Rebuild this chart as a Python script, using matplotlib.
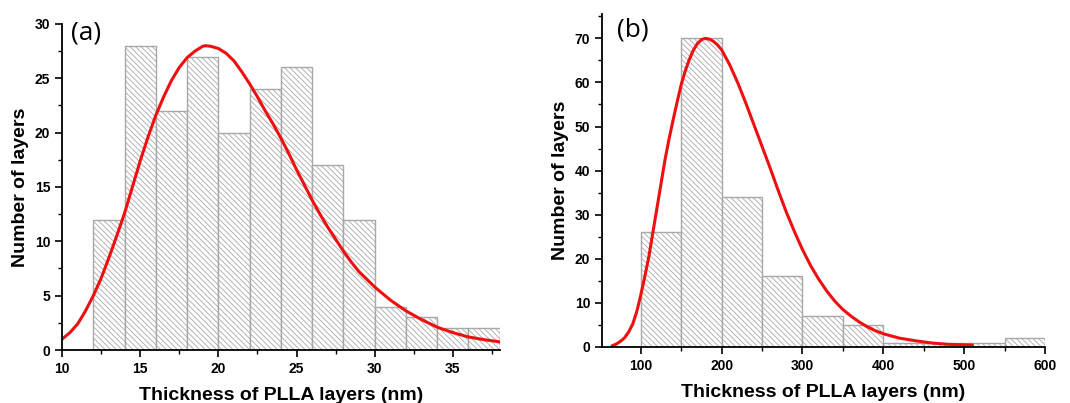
import numpy as np
import matplotlib
matplotlib.use('Agg')
import matplotlib.pyplot as plt
from matplotlib.ticker import MultipleLocator

plt.rcParams['font.family'] = ['Liberation Sans', 'DejaVu Sans']
plt.rcParams['hatch.linewidth'] = 0.6

# panel (a) histogram: bin edges and counts
a_edges = [12, 14, 16, 18, 20, 22, 24, 26, 28, 30, 32, 34, 36, 38]
a_counts = [12, 28, 22, 27, 20, 24, 26, 17, 12, 4, 3, 2, 2]
# panel (a) fit curve
a_fit_x = [10, 10.5, 11, 11.5, 12, 12.5, 13, 13.5, 14, 14.5, 15, 15.5, 16, 16.5,
           17, 17.5, 18, 18.5, 19, 19.2, 19.5, 20, 20.5, 21, 21.5, 22, 22.5, 23,
           23.5, 24, 24.5, 25, 25.5, 26, 26.5, 27, 27.5, 28, 28.5, 29, 29.5, 30,
           31, 32, 33, 34, 35, 36, 37, 38]
a_fit_y = [1.0, 1.6, 2.4, 3.6, 5.0, 6.6, 8.5, 10.5, 12.6, 15.0, 17.4, 19.6, 21.6,
           23.3, 24.8, 26.0, 26.9, 27.5, 27.95, 28.0, 27.95, 27.75, 27.3, 26.6,
           25.6, 24.5, 23.3, 22.0, 20.8, 19.5, 18.1, 16.6, 15.2, 13.8, 12.5, 11.3,
           10.2, 9.1, 8.1, 7.2, 6.5, 5.8, 4.6, 3.6, 2.8, 2.1, 1.6, 1.2, 0.95, 0.75]

# panel (b)
b_edges = [100, 150, 200, 250, 300, 350, 400, 450, 500, 550, 600]
b_counts = [26, 70, 34, 16, 7, 5, 1, 1, 1, 2]
b_fit_x = [65, 70, 75, 80, 85, 90, 95, 100, 105, 110, 115, 120, 125, 130, 135, 140,
           145, 150, 155, 160, 165, 170, 175, 180, 185, 190, 195, 200, 210, 220,
           230, 240, 250, 260, 270, 280, 290, 300, 310, 320, 330, 340, 350, 360,
           370, 380, 390, 400, 420, 440, 460, 480, 510]
b_fit_y = [0.3, 0.7, 1.3, 2.1, 3.4, 5.2, 8.0, 11.8, 16.0, 20.5, 26.0, 31.5, 37.0,
           42.5, 47.2, 51.5, 55.6, 59.5, 62.6, 65.2, 67.3, 68.8, 69.7, 70.0, 69.8,
           69.3, 68.5, 67.4, 64.0, 59.9, 55.3, 50.4, 45.5, 40.6, 35.5, 30.6, 26.2,
           22.1, 18.5, 15.4, 12.7, 10.4, 8.5, 7.0, 5.7, 4.6, 3.7, 3.0, 2.0, 1.4,
           0.9, 0.6, 0.45]

fig = plt.figure(figsize=(10.7, 4.03), dpi=100)
ax1 = fig.add_axes([0.058, 0.1315, 0.409, 0.809])
ax2 = fig.add_axes([0.5626, 0.139, 0.414, 0.826])

def draw(ax, edges, counts, fx, fy):
    widths = np.diff(edges)
    ax.bar(edges[:-1], counts, width=widths, align='edge', color='white',
           edgecolor='#a8a8a8', hatch='\\\\\\\\\\\\', linewidth=1.0, zorder=1)
    ax.plot(fx, fy, color='#ee1010', lw=2.2, zorder=3, solid_joinstyle='round')
    for s in ['top', 'right']:
        ax.spines[s].set_visible(False)
    for s in ['left', 'bottom']:
        ax.spines[s].set_linewidth(1.3)
        ax.spines[s].set_zorder(4)
    ax.tick_params(which='major', direction='out', length=5, width=1.2,
                   labelsize=10)
    ax.tick_params(which='minor', direction='out', length=3, width=1.0)
    ax.set_ylabel('Number of layers', fontsize=14, fontweight='bold')
    ax.set_xlabel('Thickness of PLLA layers (nm)', fontsize=14, fontweight='bold',
                  labelpad=8)

draw(ax1, a_edges, a_counts, a_fit_x, a_fit_y)
ax1.set_xlim(10, 38)
ax1.set_ylim(0, 30)
ax1.xaxis.set_major_locator(MultipleLocator(5))
ax1.xaxis.set_minor_locator(MultipleLocator(2.5))
ax1.yaxis.set_major_locator(MultipleLocator(5))
ax1.yaxis.set_minor_locator(MultipleLocator(2.5))
ax1.text(0.02, 1.01, '(a)', transform=ax1.transAxes, fontsize=19,
         family=['Open Sans', 'DejaVu Sans'], va='top', ha='left')

draw(ax2, b_edges, b_counts, b_fit_x, b_fit_y)
ax2.set_xlim(52, 600)
ax2.set_ylim(0, 75.5)
ax2.xaxis.set_major_locator(MultipleLocator(100))
ax2.xaxis.set_minor_locator(MultipleLocator(50))
ax2.yaxis.set_major_locator(MultipleLocator(10))
ax2.yaxis.set_minor_locator(MultipleLocator(5))
ax2.text(0.034, 0.99, '(b)', transform=ax2.transAxes, fontsize=19,
         family=['Open Sans', 'DejaVu Sans'], va='top', ha='left')

for ax in (ax1, ax2):
    for lab in ax.get_xticklabels() + ax.get_yticklabels():
        lab.set_fontweight('bold')

fig.savefig('out.png', dpi=100)
